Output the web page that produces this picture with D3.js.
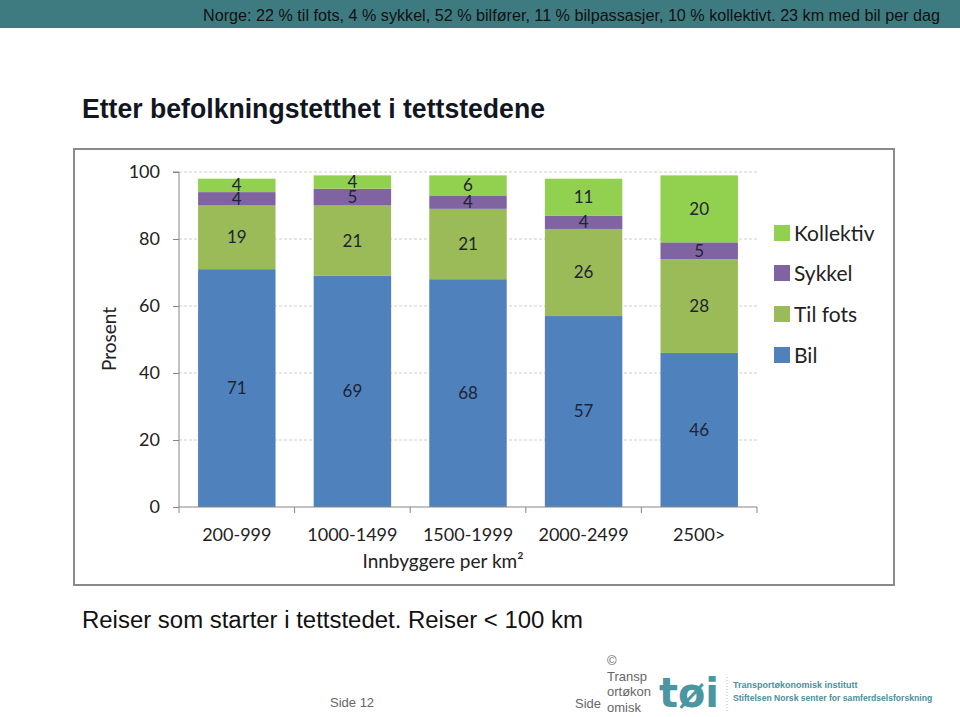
<!DOCTYPE html>
<html>
<head>
<meta charset="utf-8">
<script src="https://cdn.jsdelivr.net/npm/d3@7"></script>
<style>
  html, body { margin: 0; padding: 0; background: #fff; }
  svg { display: block; }
</style>
</head>
<body>
<script>
const categories = ["200-999", "1000-1499", "1500-1999", "2000-2499", "2500>"];
const bil       = [71, 69, 68, 57, 46];
const tilFots   = [19, 21, 21, 26, 28];
const sykkel    = [4, 5, 4, 4, 5];
const kollektiv = [4, 4, 6, 11, 20];
const seriesNames = ["Bil", "Til fots", "Sykkel", "Kollektiv"];
const seriesColors = ["#4F81BD", "#9BBB59", "#8064A2", "#92D050"];
const yTicks = [0, 20, 40, 60, 80, 100];

const W = 960, H = 717;
const svg = d3.select("body").append("svg").attr("width", W).attr("height", H);
const ff = "Liberation Sans, Arial, sans-serif";
const ffNarrow = "'Liberation Sans Narrow', 'Liberation Sans', Arial, sans-serif";

// Top banner
svg.append("rect").attr("x", 0).attr("y", 0).attr("width", W).attr("height", 28).attr("fill", "#3E7B80");
svg.append("text").attr("x", 940).attr("y", 21).attr("text-anchor", "end")
  .attr("font-family", ffNarrow).attr("font-size", 16)
  .attr("fill", "#111")
  .attr("textLength", 737).attr("lengthAdjust", "spacingAndGlyphs")
  .text("Norge:  22 % til fots, 4 % sykkel, 52 % bilfører, 11 % bilpassasjer, 10 % kollektivt.  23 km med bil per dag");

// Title
svg.append("text").attr("x", 82).attr("y", 118)
  .attr("font-family", ff).attr("font-size", 27).attr("font-weight", "bold")
  .attr("fill", "#121622")
  .attr("textLength", 463).attr("lengthAdjust", "spacingAndGlyphs")
  .text("Etter befolkningstetthet i tettstedene");

// Chart frame
svg.append("rect").attr("x", 74).attr("y", 149).attr("width", 820).attr("height", 436)
  .attr("fill", "#fff").attr("stroke", "#8a8a8a").attr("stroke-width", 2);

const chartFont = "Lato, 'Open Sans', sans-serif";
const x = d3.scaleBand().domain(categories).range([179, 757]).paddingInner(0.33).paddingOuter(0.165);
const y = d3.scaleLinear().domain([0, 100]).range([507, 172]);

// gridlines
svg.append("g").selectAll("line").data(yTicks.filter(d => d > 0)).join("line")
  .attr("x1", 179).attr("x2", 757)
  .attr("y1", d => y(d)).attr("y2", d => y(d))
  .attr("stroke", "#cfcfcf").attr("stroke-width", 1).attr("stroke-dasharray", "3,2");

// stacked data
const rows = categories.map((c, i) => ({
  cat: c, "Bil": bil[i], "Til fots": tilFots[i], "Sykkel": sykkel[i], "Kollektiv": kollektiv[i]
}));
const stack = d3.stack().keys(seriesNames)(rows);

const gBars = svg.append("g");
stack.forEach((layer, li) => {
  gBars.append("g").selectAll("rect").data(layer).join("rect")
    .attr("x", d => x(d.data.cat))
    .attr("width", x.bandwidth())
    .attr("y", d => y(d[1]))
    .attr("height", d => y(d[0]) - y(d[1]))
    .attr("fill", seriesColors[li]);
});
stack.forEach((layer, li) => {
  gBars.append("g").selectAll("text").data(layer).join("text")
    .attr("x", d => x(d.data.cat) + x.bandwidth() / 2)
    .attr("y", d => (y(d[0]) + y(d[1])) / 2)
    .attr("dy", "0.35em")
    .attr("text-anchor", "middle")
    .attr("font-family", chartFont).attr("font-size", 17)
    .attr("fill", "#1d2433")
    .text(d => d[1] - d[0]);
});

// y axis
const yAxis = d3.axisLeft(y).tickValues(yTicks).tickSize(6).tickPadding(13);
const gy = svg.append("g").attr("transform", "translate(179,0)").call(yAxis);
gy.select(".domain").attr("stroke", "#868686").attr("d", `M-6,${y(100)}H0V${y(0)}`);
gy.selectAll(".tick line").attr("stroke", "#868686");
gy.selectAll(".tick text").attr("font-family", chartFont).attr("font-size", 18).attr("fill", "#222");

// x axis
const gx = svg.append("g").attr("transform", "translate(0,507)");
gx.append("line").attr("x1", 179).attr("x2", 757).attr("y1", 0).attr("y2", 0).attr("stroke", "#868686");
const boundaries = categories.map(c => x(c) - x.step() * x.paddingInner() / 2).concat([757]);
boundaries[0] = 179;
gx.selectAll("line.tk").data(boundaries).join("line").attr("class", "tk")
  .attr("x1", d => d).attr("x2", d => d).attr("y1", 0).attr("y2", 6).attr("stroke", "#868686");
gx.selectAll("text").data(categories).join("text")
  .attr("x", d => x(d) + x.bandwidth() / 2).attr("y", 34)
  .attr("text-anchor", "middle").attr("font-family", chartFont).attr("font-size", 18).attr("fill", "#222")
  .text(d => d);

svg.append("text").attr("x", 443).attr("y", 568).attr("text-anchor", "middle")
  .attr("font-family", chartFont).attr("font-size", 19).attr("fill", "#222")
  .text("Innbyggere per km²");
svg.append("text").attr("transform", "translate(116,339) rotate(-90)").attr("text-anchor", "middle")
  .attr("font-family", chartFont).attr("font-size", 19).attr("fill", "#222")
  .text("Prosent");

// legend
const legendOrder = [3, 2, 1, 0];
const legY = [233, 273, 314, 355];
const gl = svg.append("g");
legendOrder.forEach((si, k) => {
  gl.append("rect").attr("x", 774).attr("y", legY[k] - 8).attr("width", 16).attr("height", 16).attr("fill", seriesColors[si]);
  gl.append("text").attr("x", 794).attr("y", legY[k]).attr("dy", "0.36em")
    .attr("font-family", chartFont).attr("font-size", 21).attr("fill", "#222").text(seriesNames[si]);
});

// subtitle
svg.append("text").attr("x", 82).attr("y", 628)
  .attr("font-family", ff).attr("font-size", 23).attr("fill", "#111")
  .attr("textLength", 501).attr("lengthAdjust", "spacingAndGlyphs")
  .text("Reiser som starter i tettstedet. Reiser < 100 km");

// footer
svg.append("text").attr("x", 330).attr("y", 707).attr("font-family", ff).attr("font-size", 13).attr("fill", "#666").text("Side 12");
svg.append("text").attr("x", 575).attr("y", 708).attr("font-family", ff).attr("font-size", 13).attr("fill", "#666").text("Side");
["©", "Transp", "ortøkon", "omisk"].forEach((t, i) => {
  svg.append("text").attr("x", 607).attr("y", 665 + i * 15.5).attr("font-family", ff).attr("font-size", 13).attr("fill", "#666").text(t);
});
svg.append("text").attr("x", 659).attr("y", 707)
  .attr("font-family", "'DejaVu Sans', sans-serif").attr("font-size", 40).attr("font-weight", "bold")
  .attr("fill", "#4A97A2").attr("textLength", 60).attr("lengthAdjust", "spacingAndGlyphs").text("tøi");
svg.append("line").attr("x1", 727).attr("x2", 727).attr("y1", 677).attr("y2", 711)
  .attr("stroke", "#8fbfc6").attr("stroke-dasharray", "1,2");
svg.append("text").attr("x", 733).attr("y", 688).attr("font-family", ff).attr("font-size", 9)
  .attr("font-weight", "bold").attr("fill", "#4A8F9A")
  .text("Transportøkonomisk institutt");
svg.append("text").attr("x", 733).attr("y", 701).attr("font-family", ff).attr("font-size", 8.6)
  .attr("font-weight", "bold").attr("fill", "#4A8F9A")
  .text("Stiftelsen Norsk senter for samferdselsforskning");
</script>
</body>
</html>
